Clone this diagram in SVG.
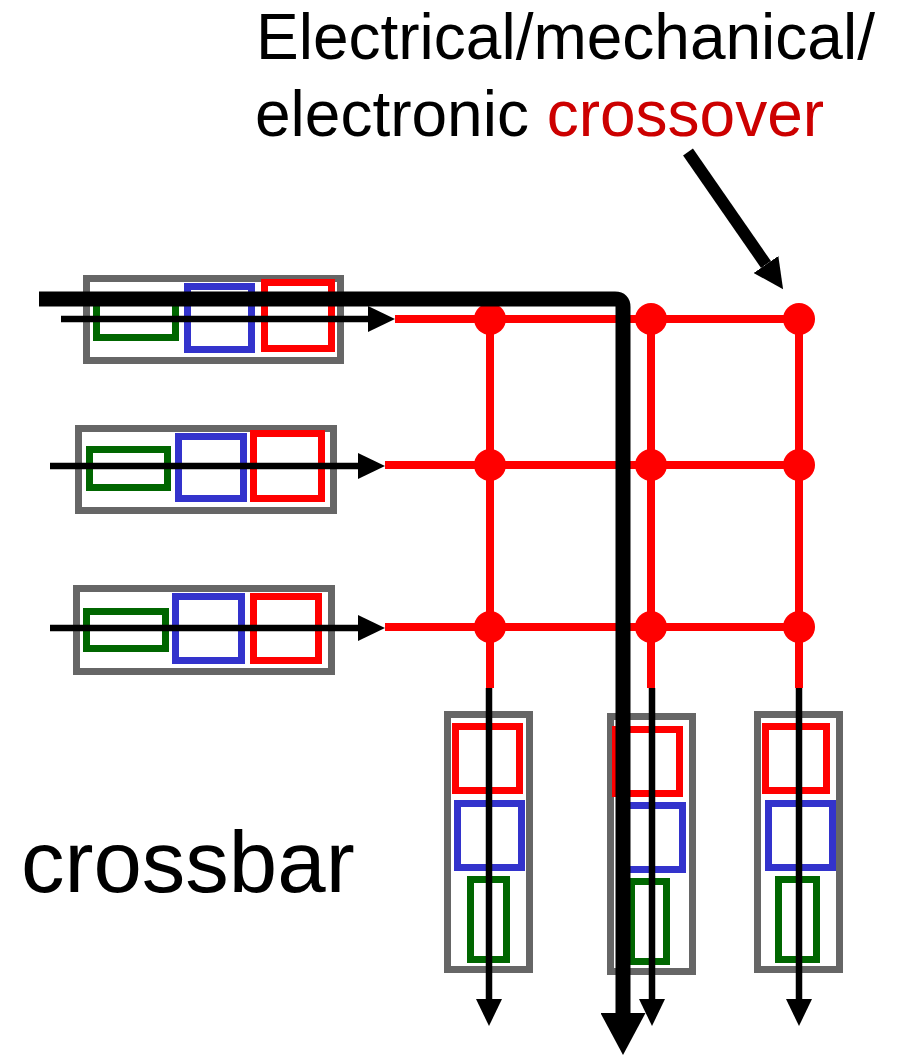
<svg xmlns="http://www.w3.org/2000/svg" width="904" height="1056" viewBox="0 0 904 1056">
<style>
.buf{fill:none;stroke:#666666;stroke-width:7}
.g{fill:none;stroke:#006600;stroke-width:7}
.b{fill:none;stroke:#3333cc;stroke-width:7}
.r{fill:none;stroke:#ff0000;stroke-width:7}
.wire{stroke:#ff0000;stroke-width:8;fill:none}
.dot{fill:#ff0000}
.thin{stroke:#000;stroke-width:6.5;fill:none}
.lbl{font-family:"Liberation Sans",Arial,Helvetica,sans-serif;fill:#000}
</style>
<defs>
<marker id="ah" markerUnits="userSpaceOnUse" viewBox="0 0 27 26" markerWidth="27" markerHeight="26" refX="0" refY="13" orient="auto"><path d="M0,0 L27,13 L0,26 z" fill="#000"/></marker>
<marker id="ahBig" markerUnits="userSpaceOnUse" viewBox="0 0 42 45" markerWidth="42" markerHeight="45" refX="0" refY="22.5" orient="auto"><path d="M0,0 L42,22.5 L0,45 z" fill="#000"/></marker>
<marker id="ahTop" markerUnits="userSpaceOnUse" viewBox="0 0 30 30" markerWidth="30" markerHeight="30" refX="0" refY="15" orient="auto"><path d="M0,0 L30,15 L0,30 z" fill="#000"/></marker>
</defs>
<rect width="904" height="1056" fill="#fff"/>

<g id="title">
<text class="lbl" x="256" y="59" font-size="64">Electrical/mechanical/</text>
<text class="lbl" x="255" y="136" font-size="64">electronic <tspan fill="#cc0000">crossover</tspan></text>
</g>
<g id="label-crossbar">
<text class="lbl" x="21" y="892" font-size="87">crossbar</text>
</g>

<g id="input1">
<rect class="buf" x="86.5" y="278.5" width="254" height="82"/>
<rect class="g" x="96.5" y="299.5" width="79" height="38"/>
<rect class="b" x="187.5" y="286.5" width="64" height="63"/>
<rect class="r" x="264.5" y="282.5" width="67" height="66"/>
</g>
<g id="input2">
<rect class="buf" x="78.5" y="428.5" width="255" height="82"/>
<rect class="g" x="89.5" y="449.5" width="78" height="38"/>
<rect class="b" x="178.5" y="436.5" width="65" height="62"/>
<rect class="r" x="253.5" y="433.5" width="68" height="65"/>
</g>
<g id="input3">
<rect class="buf" x="76.5" y="588.5" width="255" height="83"/>
<rect class="g" x="86.5" y="611.5" width="79" height="37"/>
<rect class="b" x="175.5" y="596.5" width="66" height="64"/>
<rect class="r" x="253.5" y="596.5" width="65" height="64"/>
</g>

<g id="output1">
<rect class="buf" x="447.5" y="714.5" width="82" height="255"/>
<rect class="r" x="455.5" y="726.5" width="64" height="64"/>
<rect class="b" x="457.5" y="803.5" width="64" height="64"/>
<rect class="g" x="470.5" y="879.5" width="36" height="80"/>
</g>
<g id="output2">
<rect class="buf" x="610.5" y="716.5" width="82" height="255"/>
<rect class="r" x="615.5" y="729.5" width="64" height="64"/>
<rect class="b" x="620.5" y="805.5" width="62" height="64"/>
<rect class="g" x="631.5" y="881.5" width="35" height="80"/>
</g>
<g id="output3">
<rect class="buf" x="757.5" y="714.5" width="82" height="255"/>
<rect class="r" x="765.5" y="726.5" width="61" height="64"/>
<rect class="b" x="768.5" y="803.5" width="64" height="64"/>
<rect class="g" x="778.5" y="879.5" width="38" height="80"/>
</g>

<g id="crossbar-fabric">
<line class="wire" x1="395" y1="319" x2="799" y2="319"/>
<line class="wire" x1="385" y1="465" x2="799" y2="465"/>
<line class="wire" x1="385" y1="627" x2="799" y2="627"/>
<line class="wire" x1="490" y1="319" x2="490" y2="688"/>
<line class="wire" x1="651" y1="319" x2="651" y2="688"/>
<line class="wire" x1="799" y1="319" x2="799" y2="688"/>
<circle class="dot" cx="490" cy="319" r="16"/>
<circle class="dot" cx="651" cy="319" r="16"/>
<circle class="dot" cx="799" cy="319" r="16"/>
<circle class="dot" cx="490" cy="465" r="16"/>
<circle class="dot" cx="651" cy="465" r="16"/>
<circle class="dot" cx="799" cy="465" r="16"/>
<circle class="dot" cx="490" cy="627" r="16"/>
<circle class="dot" cx="651" cy="627" r="16"/>
<circle class="dot" cx="799" cy="627" r="16"/>
</g>

<g id="connectors">
<line class="thin" x1="61" y1="319" x2="368" y2="319" marker-end="url(#ah)"/>
<line class="thin" x1="50" y1="466" x2="358" y2="466" marker-end="url(#ah)"/>
<line class="thin" x1="50" y1="628" x2="358" y2="628" marker-end="url(#ah)"/>
<line class="thin" x1="489" y1="688" x2="489" y2="999" marker-end="url(#ah)"/>
<line class="thin" x1="652" y1="688" x2="652" y2="999" marker-end="url(#ah)"/>
<line class="thin" x1="799" y1="688" x2="799" y2="999" marker-end="url(#ah)"/>
<path d="M39,299 H615 Q623,299 623,307 V1013" fill="none" stroke="#000" stroke-width="15" marker-end="url(#ahBig)"/>
<line x1="688" y1="152" x2="766" y2="264.5" stroke="#000" stroke-width="12" marker-end="url(#ahTop)"/>
</g>
</svg>
